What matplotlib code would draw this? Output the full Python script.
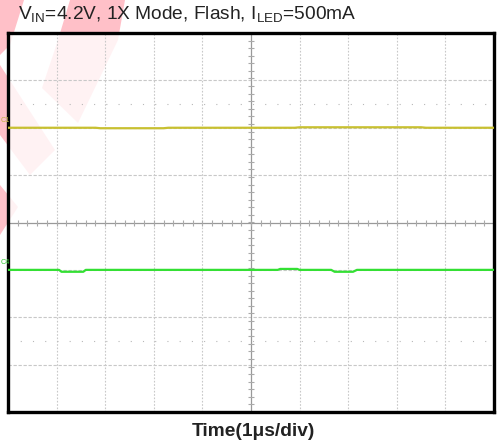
import numpy as np
import matplotlib.pyplot as plt
from matplotlib.patches import Polygon

plt.rcParams['font.family'] = ['Liberation Sans', 'DejaVu Sans']

# scope traces, in divisions (x: 1us/div, 10 div; y: 8 div)
c1_t = [-5, -3.2, -3.1, -1.8, -1.7, 0.9, 1.0, 3.5, 3.6, 5]
c1_v = [2.0, 2.0, 1.99, 1.99, 2.0, 2.0, 2.01, 2.01, 2.0, 2.0]

c4_t = [-5, -3.95, -3.9, -3.45, -3.4, 0.55, 0.6, 0.95, 1.0, 1.65, 1.72, 2.1, 2.18, 5]
c4_v = [-1.0, -1.0, -1.04, -1.04, -1.0, -1.0, -0.98, -0.98, -1.0, -1.0, -1.04, -1.04, -1.0, -1.0]

title = r'V$_{\mathregular{IN}}$=4.2V, 1X Mode, Flash, I$_{\mathregular{LED}}$=500mA'
xlabel = 'Time(1\u03bcs/div)'

W, H = 498, 446
fig = plt.figure(figsize=(W / 100, H / 100), dpi=100)


def px(pts):
    return [(x / W, 1 - y / H) for x, y in pts]


# faint logo watermark behind the screen
wm = [
    [(0, 0), (24, 0), (10, 45), (0, 55)],
    [(0, 65), (55, 150), (30, 175), (0, 135)],
    [(0, 185), (18, 207), (0, 235)],
    [(70, 0), (125, 0), (118, 40), (78, 123), (42, 88), (58, 40)],
]
for p in wm:
    fig.patches.append(Polygon(px(p), closed=True, transform=fig.transFigure,
                               facecolor='#ffc0c8', edgecolor='none', zorder=-1))

ax = fig.add_axes([8 / W, 1 - 412 / H, 486 / W, 379 / H])
ax.set_facecolor((1, 1, 1, 0.8))
ax.set_xlim(-5, 5)
ax.set_ylim(-4, 4)
ax.set_xticks([])
ax.set_yticks([])
for s in ax.spines.values():
    s.set_linewidth(2.4)
    s.set_color('black')

# graticule
for x in range(-4, 5):
    if x != 0:
        ax.axvline(x, color='#c8c8c8', lw=0.8, ls=(0, (1.5, 1.5)), zorder=1)
for y in range(-3, 4):
    if y != 0:
        ax.axhline(y, color='#c8c8c8', lw=0.8, ls=(0, (3, 1.5)), zorder=1)
for y in (-2.5, 2.5):
    ax.axhline(y, color='#b8b8b8', lw=0.8, ls=(0, (1, 10)), zorder=1)
ax.axvline(0, color='#999999', lw=0.9, zorder=1)
ax.axhline(0, color='#999999', lw=0.9, zorder=1)
mt = np.arange(-5, 5.01, 0.2)
ax.plot(mt, np.zeros_like(mt), ls='none', marker='|', ms=5, mew=0.8, color='#aaaaaa', zorder=1)
ax.plot(np.zeros_like(mt), mt * 0.8, ls='none', marker='_', ms=5, mew=0.8, color='#aaaaaa', zorder=1)

ax.plot(c1_t, c1_v, color='#c8c030', lw=1.6, zorder=3)
ax.plot(c4_t, c4_v, color='#33e033', lw=1.6, zorder=3)

fig.text(0.5 / W, 1 - 121 / H, 'C1', color='#c0b040', fontsize=5.2, va='center')
fig.text(0.5 / W, 1 - 263 / H, 'C4', color='#33cc33', fontsize=5.2, va='center')

fig.text(18 / W, 1 - 15 / H, title, fontsize=13.8, color='#222222', va='center', ha='left')
fig.text(253 / W, 1 - 432 / H, xlabel, fontsize=13.8, fontweight='bold', color='#222222',
         va='center', ha='center')

fig.savefig('out.png', dpi=100)
